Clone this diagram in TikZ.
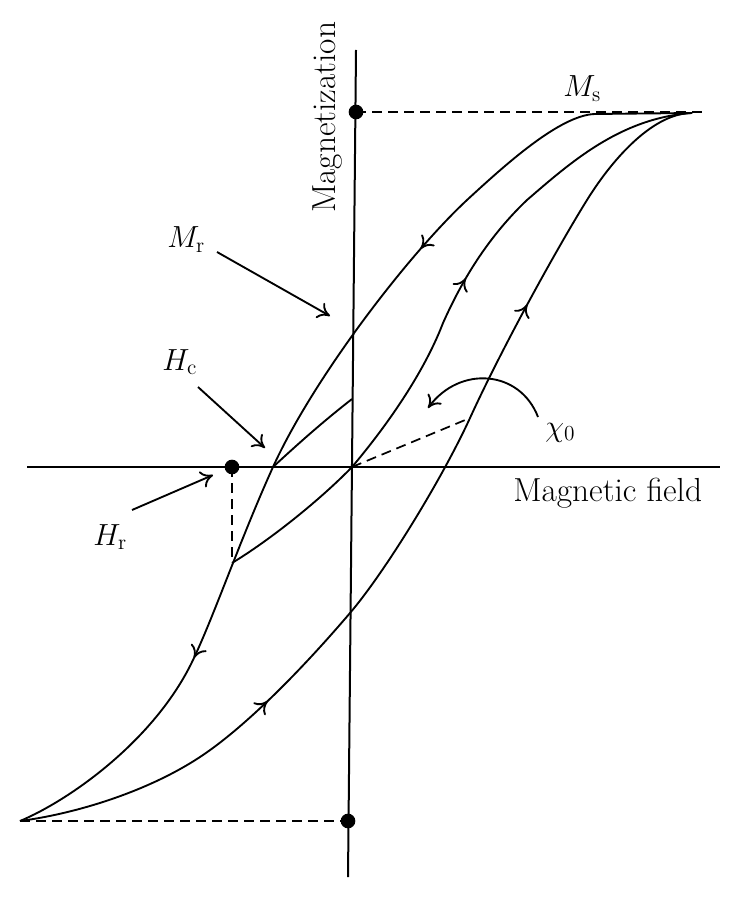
\documentclass[tikz,border=0pt]{standalone}
\usepackage{fix-cm}
\usepackage{amsmath}
\usetikzlibrary{arrows.meta, decorations.markings}

\begin{document}
\begin{tikzpicture}[x=0.75pt, y=-0.75pt,
  curve/.style={line width=1.4pt, line join=round},
  axisline/.style={line width=1.5pt},
  dashline/.style={line width=1.3pt, dash pattern=on 7.5pt off 4.5pt},
  pointer/.style={line width=1.4pt, -{To[length=9pt, width=13pt]}},
  midarrow/.style={postaction={decorate, decoration={markings,
      mark=at position #1 with {\arrow{To[length=9pt, width=13pt]}}}}},
  dot/.style={circle, fill=black, inner sep=0pt, minimum size=11pt},
  lbl/.style={font=\fontsize{22.9}{27}\selectfont, inner sep=0pt},
  axlbl/.style={font=\fontsize{25}{30}\selectfont, inner sep=0pt}]

  \useasboundingbox (0,0) rectangle (740,898);

  % axes
  \coordinate (xl) at (27,467);
  \coordinate (xr) at (720,467);
  \coordinate (yt) at (356,50);
  \coordinate (yb) at (348,877);
  \coordinate (O) at (352,467);
  \draw[axisline] (xl) -- (xr);
  \draw[axisline] (yt) -- (yb);

  \node[axlbl, anchor=base west] (field) at (513,501) {Magnetic field};
  \node[axlbl, anchor=base west, rotate=90] (magn) at (335,213) {Magnetization};

  % saturation and remanence marks
  \coordinate (tip) at (692,113);
  \coordinate (msend) at (705,112);
  \coordinate (bl) at (20,821);
  \coordinate (hrlow) at (232,563);
  \coordinate (hcpt) at (273,467);
  \coordinate (chiend) at (470,418);
  \node[dot] (msdot) at (356,112) {};
  \node[dot] (botdot) at (348,821) {};
  \node[dot] (hrdot) at (232,467) {};
  \draw[dashline] (msdot.center) -- (msend);
  \draw[dashline] (bl) -- (botdot.center);
  \draw[dashline] (hrdot.center) -- (hrlow);
  \draw[dashline] (O) -- (chiend);

  % hysteresis branches
  \draw[curve, midarrow=0.31, midarrow=0.765] (tip) -- (595,114)
    .. controls (560,115) and (505,165) .. (467,200)
    .. controls (407,256) and (313,379) .. (hcpt)
    .. controls (240,540) and (214,616) .. (193,660)
    .. controls (155,740) and (70,800) .. (bl);
  \draw[curve, midarrow=0.275, midarrow=0.743] (bl)
    .. controls (80,813) and (150,790) .. (200,757)
    .. controls (250,724) and (310,660) .. (350,613)
    .. controls (385,572) and (442,479) .. (chiend)
    .. controls (502,348) and (556,250) .. (587,200)
    .. controls (615,155) and (655,113) .. (tip);
  \draw[curve, midarrow=0.564] (hrlow)
    .. controls (270,540) and (320,500) .. (O)
    .. controls (390,422) and (425,370) .. (443,323)
    .. controls (460,285) and (485,240) .. (527,200)
    .. controls (570,163) and (620,118) .. (tip);
  \draw[curve] (hcpt) .. controls (300,442) and (325,420) .. (352,399);

  % labels
  \node[lbl, anchor=base west] (Ms) at (563,97) {$M_{\mathrm{s}}$};
  \node[lbl, anchor=base west] (Mr) at (167,248) {$M_{\mathrm{r}}$};
  \node[lbl, anchor=base west] (Hc) at (162,370) {$H_{\mathrm{c}}$};
  \node[lbl, anchor=base west] (Hr) at (93,545) {$H_{\mathrm{r}}$};
  \node[lbl, anchor=base west] (chi) at (545,436) {$\chi_0$};

  \coordinate (mrtail) at (217,252);
  \coordinate (mrtip) at (330,316);
  \coordinate (hctail) at (198,387);
  \coordinate (hctip) at (265,448);
  \coordinate (hrtail) at (132,510);
  \coordinate (hrtip) at (213,475);
  \coordinate (chitail) at (538,417);
  \coordinate (chitip) at (428,408);
  \draw[pointer] (mrtail) -- (mrtip);
  \draw[pointer] (hctail) -- (hctip);
  \draw[pointer] (hrtail) -- (hrtip);
  \draw[pointer] (chitail) .. controls (520,370) and (460,365) .. (chitip);
\end{tikzpicture}
\end{document}
